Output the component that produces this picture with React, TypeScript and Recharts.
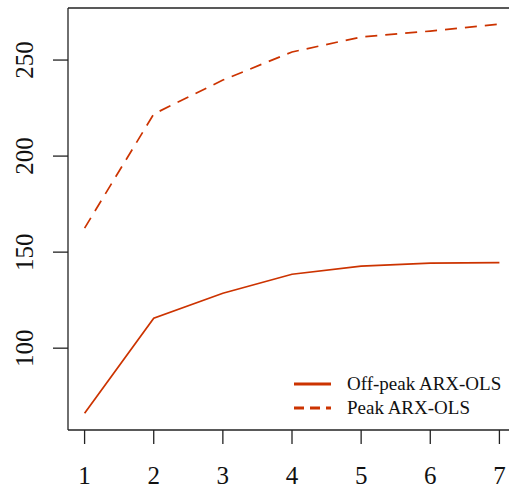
import React from "react";
import { LineChart, Line, XAxis, YAxis, ReferenceLine } from "recharts";

const horizons = [1, 2, 3, 4, 5, 6, 7];
const offPeak = [66.1, 115.6, 128.6, 138.5, 142.7, 144.3, 144.5];
const peak = [162.5, 221.9, 239.6, 254.2, 262.0, 265.1, 268.7];
const yTicks = [100, 150, 200, 250];

const data = horizons.map((h, i) => ({ h, offPeak: offPeak[i], peak: peak[i] }));

const RED = "#CC3300";
const FONT = "'Liberation Serif', 'DejaVu Serif', serif";
const Y_DOMAIN: [number, number] = [57.4, 277.1];

const YTick = (props: any) => {
  const { y, payload } = props;
  return (
    <text
      x={33}
      y={y}
      transform={`rotate(-90, 33, ${y})`}
      textAnchor="middle"
      fontFamily={FONT}
      fontSize={25}
      fill="#111"
    >
      {payload.value}
    </text>
  );
};

const XTick = (props: any) => {
  const { x, payload } = props;
  return (
    <text x={x} y={484} textAnchor="middle" fontFamily={FONT} fontSize={25} fill="#111">
      {payload.value}
    </text>
  );
};

const LegendBox = () => (
  <svg width={220} height={50} style={{ position: "absolute", left: 294, top: 376, overflow: "visible" }}>
    <line x1={0} x2={37} y1={8} y2={8} stroke={RED} strokeWidth={3} />
    <line x1={0} x2={37} y1={32} y2={32} stroke={RED} strokeWidth={3} strokeDasharray="10 6" />
    <text x={53} y={14} fontFamily={FONT} fontSize={19} fill="#111">Off-peak ARX-OLS</text>
    <text x={53} y={38} fontFamily={FONT} fontSize={19} fill="#111">Peak ARX-OLS</text>
  </svg>
);

export default function App() {
  return (
    <div style={{ position: "absolute", left: 0, top: 0, width: 509, height: 490, overflow: "hidden", background: "#fff" }}>
      <LineChart width={516} height={490} data={data} margin={{ top: 8, right: 0, left: 0, bottom: 0 }}>
        <XAxis
          dataKey="h"
          type="number"
          domain={[0.76, 7.24]}
          ticks={horizons}
          tickSize={14}
          tick={<XTick />}
          height={60}
          stroke="#222"
          strokeWidth={1.3}
          allowDataOverflow
        />
        <YAxis
          type="number"
          domain={Y_DOMAIN}
          ticks={yTicks}
          tickSize={15}
          tick={<YTick />}
          width={68}
          stroke="#222"
          strokeWidth={1.3}
          allowDataOverflow
        />
        <ReferenceLine y={Y_DOMAIN[1]} stroke="#222" strokeWidth={1.3} />
        <Line
          type="linear"
          dataKey="offPeak"
          stroke={RED}
          strokeWidth={1.7}
          dot={false}
          isAnimationActive={false}
        />
        <Line
          type="linear"
          dataKey="peak"
          stroke={RED}
          strokeWidth={1.7}
          strokeDasharray="12 8"
          dot={false}
          isAnimationActive={false}
        />
      </LineChart>
      <LegendBox />
    </div>
  );
}
